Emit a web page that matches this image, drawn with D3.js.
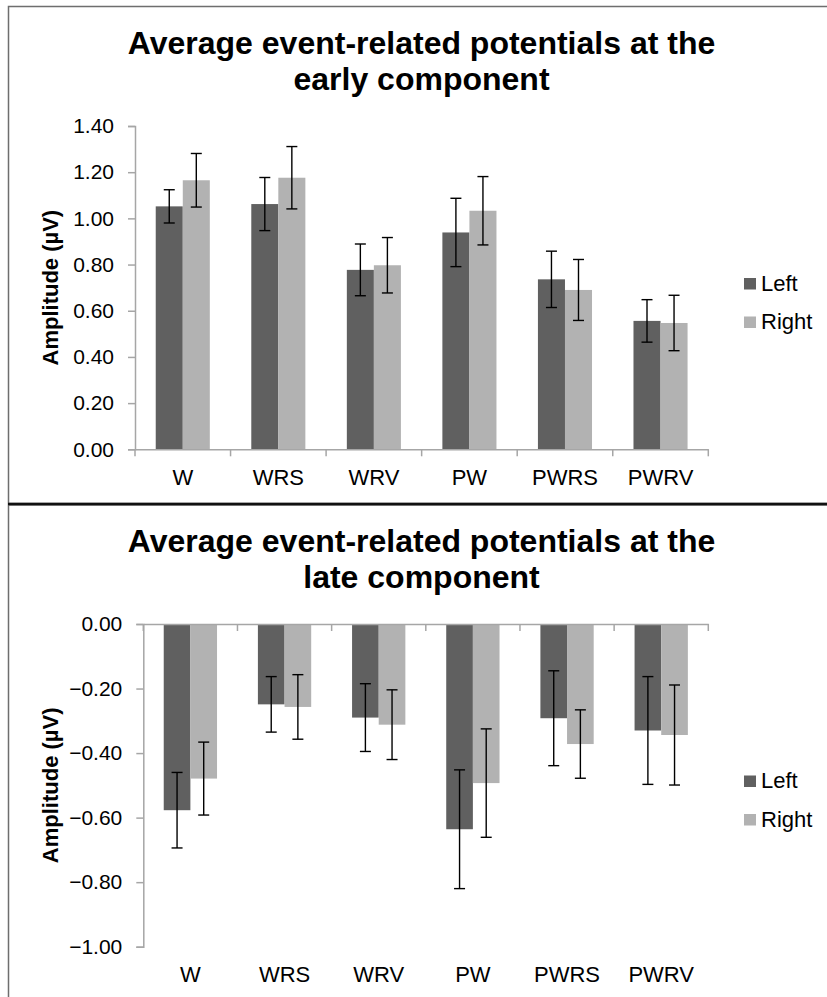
<!DOCTYPE html>
<html>
<head>
<meta charset="utf-8">
<script src="https://cdn.jsdelivr.net/npm/d3@7"></script>
<style>
  html, body { margin: 0; padding: 0; background: #fff; }
  svg { display: block; }
  text { font-family: "Liberation Sans", Arial, sans-serif; fill: #000; }
</style>
</head>
<body>
<svg id="chart" width="827" height="997"></svg>
<script>
// ---- data ----
const categories = ["W", "WRS", "WRV", "PW", "PWRS", "PWRV"];
const seriesNames = ["Left", "Right"];
const seriesColors = ["#606060", "#b2b2b2"];

const earlyLeft = [1.052, 1.062, 0.777, 0.939, 0.736, 0.556];
const earlyLeftErr = [0.072, 0.115, 0.112, 0.148, 0.122, 0.092];
const earlyRight = [1.165, 1.176, 0.797, 1.033, 0.690, 0.547];
const earlyRightErr = [0.116, 0.135, 0.120, 0.148, 0.132, 0.120];

const lateLeft = [-0.577, -0.249, -0.290, -0.636, -0.292, -0.330];
const lateLeftErr = [0.117, 0.086, 0.105, 0.184, 0.147, 0.167];
const lateRight = [-0.479, -0.257, -0.312, -0.493, -0.372, -0.344];
const lateRightErr = [0.113, 0.100, 0.108, 0.168, 0.106, 0.155];

const earlyTicks = [0, 0.2, 0.4, 0.6, 0.8, 1.0, 1.2, 1.4];
const lateTicks = [0, -0.2, -0.4, -0.6, -0.8, -1.0];

const svg = d3.select("#chart");

// frames
svg.append("rect").attr("x", 8.5).attr("y", 6.5).attr("width", 900).attr("height", 497)
  .attr("fill", "none").attr("stroke", "#6e6e6e").attr("stroke-width", 1.5);
svg.append("rect").attr("x", 8.5).attr("y", 505).attr("width", 900).attr("height", 600)
  .attr("fill", "none").attr("stroke", "#6e6e6e").attr("stroke-width", 1.5);
svg.append("line").attr("x1", 8).attr("x2", 827).attr("y1", 504).attr("y2", 504)
  .attr("stroke", "#111").attr("stroke-width", 2.4);

function drawChart(cfg) {
  const g = svg.append("g");
  const x0 = d3.scaleBand().domain(categories).range([cfg.left, cfg.right]).padding(0);
  const gap = x0.bandwidth() * 0.217;
  const x1 = d3.scaleBand().domain(seriesNames).range([gap, x0.bandwidth() - gap]).padding(0);
  const y = d3.scaleLinear().domain(cfg.domain).range([cfg.bottom, cfg.top]);

  // title
  cfg.title.forEach((t, i) => {
    g.append("text").attr("x", cfg.titleX).attr("y", cfg.titleY + i * 36)
      .attr("text-anchor", "middle").attr("font-size", 32).attr("font-weight", "bold").text(t);
  });

  // y axis
  const yAxis = d3.axisLeft(y).tickValues(cfg.ticks).tickSize(7).tickPadding(14)
    .tickFormat(d3.format(".2f"));
  const ya = g.append("g").attr("transform", `translate(${cfg.left},0)`).call(yAxis);
  ya.select(".domain").attr("stroke", "#a6a6a6").attr("stroke-width", 1.5);
  ya.selectAll(".tick line").attr("stroke", "#a6a6a6").attr("stroke-width", 1.5);
  ya.selectAll(".tick text").attr("font-size", 21).attr("fill", "#000")
    .attr("font-family", "Liberation Sans, Arial, sans-serif");

  // y axis title
  const cy = (cfg.top + cfg.bottom) / 2;
  g.append("text").attr("transform", `translate(58,${cy}) rotate(-90)`)
    .attr("text-anchor", "middle").attr("font-size", 22).attr("font-weight", "bold")
    .text("Amplitude (µV)");

  // bars
  const data = categories.map((c, i) => ({
    cat: c,
    vals: [
      { s: "Left", v: cfg.left0[i], e: cfg.leftErr[i] },
      { s: "Right", v: cfg.right0[i], e: cfg.rightErr[i] }
    ]
  }));
  const groups = g.selectAll(".grp").data(data).join("g")
    .attr("transform", d => `translate(${x0(d.cat)},0)`);
  groups.selectAll("rect").data(d => d.vals).join("rect")
    .attr("x", d => x1(d.s)).attr("width", x1.bandwidth())
    .attr("y", d => Math.min(y(0), y(d.v)))
    .attr("height", d => Math.abs(y(d.v) - y(0)))
    .attr("fill", (d, i) => seriesColors[i]);

  // x axis (line at zero)
  const xAxis = d3.axisBottom(x0).tickSize(0).tickFormat("");
  const xa = g.append("g").attr("transform", `translate(0,${y(0)})`).call(xAxis);
  xa.select(".domain").attr("stroke", "#a6a6a6").attr("stroke-width", 1.5);
  // category boundary ticks
  const bounds = categories.map(c => x0(c)).concat([cfg.right]);
  g.selectAll(".bt").data(bounds).join("line")
    .attr("x1", d => d).attr("x2", d => d)
    .attr("y1", y(0)).attr("y2", y(0) + 7)
    .attr("stroke", "#a6a6a6").attr("stroke-width", 1.5);
  // category labels
  g.selectAll(".cl").data(categories).join("text")
    .attr("x", d => x0(d) + x0.bandwidth() / 2).attr("y", cfg.labelY)
    .attr("text-anchor", "middle").attr("font-size", 22).text(d => d);

  // error bars
  const eb = groups.selectAll(".eb").data(d => d.vals).join("g");
  eb.append("line")
    .attr("x1", d => x1(d.s) + x1.bandwidth() / 2).attr("x2", d => x1(d.s) + x1.bandwidth() / 2)
    .attr("y1", d => y(d.v + d.e)).attr("y2", d => y(d.v - d.e))
    .attr("stroke", "#000").attr("stroke-width", 1.4);
  [1, -1].forEach(sgn => {
    eb.append("line")
      .attr("x1", d => x1(d.s) + x1.bandwidth() / 2 - 5.5)
      .attr("x2", d => x1(d.s) + x1.bandwidth() / 2 + 5.5)
      .attr("y1", d => y(d.v + sgn * d.e)).attr("y2", d => y(d.v + sgn * d.e))
      .attr("stroke", "#000").attr("stroke-width", 1.4);
  });

  // legend
  seriesNames.forEach((s, i) => {
    const ly = cfg.legendY + i * 38.5;
    g.append("rect").attr("x", 744).attr("y", ly).attr("width", 12).attr("height", 11.5)
      .attr("fill", seriesColors[i]);
    g.append("text").attr("x", 761).attr("y", ly + 12.5)
      .attr("font-size", 22).text(s);
  });
}

drawChart({
  title: ["Average event-related potentials at the", "early component"],
  titleX: 421.5, titleY: 54,
  left: 135, right: 708.3, top: 126, bottom: 449.3,
  domain: [0, 1.4], ticks: earlyTicks,
  left0: earlyLeft, leftErr: earlyLeftErr, right0: earlyRight, rightErr: earlyRightErr,
  labelY: 485, legendY: 278
});

drawChart({
  title: ["Average event-related potentials at the", "late component"],
  titleX: 421.5, titleY: 552,
  left: 143.3, right: 708.3, top: 624, bottom: 946.7,
  domain: [-1.0, 0], ticks: lateTicks,
  left0: lateLeft, leftErr: lateLeftErr, right0: lateRight, rightErr: lateRightErr,
  labelY: 981.5, legendY: 775.5
});
</script>
</body>
</html>
